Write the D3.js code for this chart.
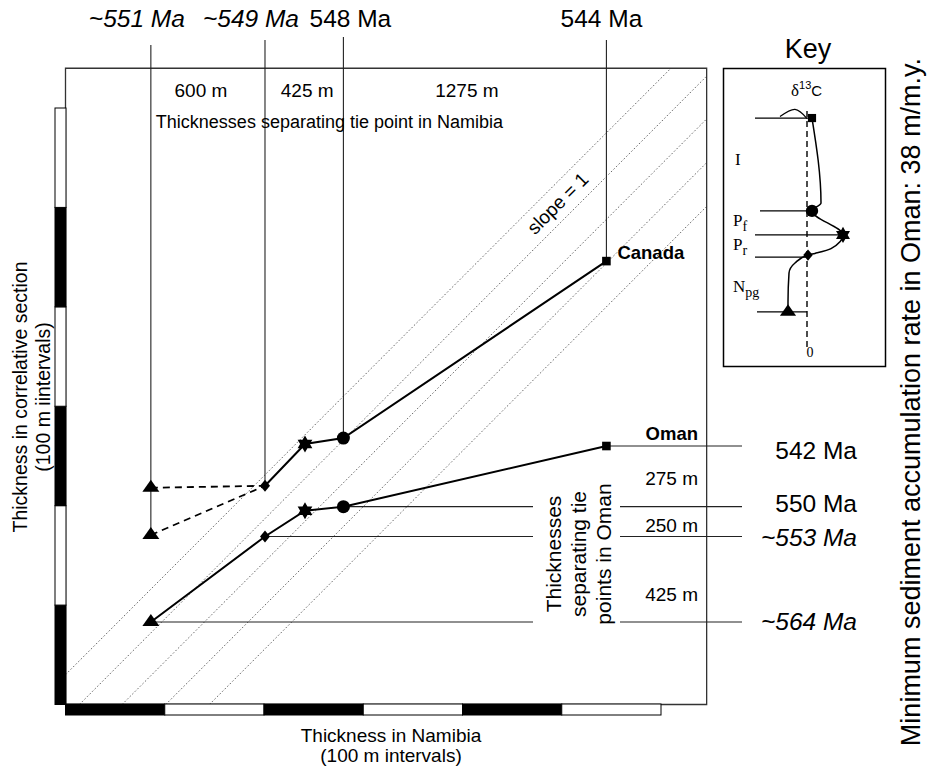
<!DOCTYPE html>
<html><head><meta charset="utf-8">
<script src="https://cdn.jsdelivr.net/npm/d3@7"></script>
<style>body{margin:0;background:#fff} svg{display:block}</style>
</head><body>
<svg id="c" width="933" height="767"></svg>
<script>
// ---------- DATA ----------
const tiePoints = ["Npg", "Pr", "peak", "Pf", "I"];
const tieSymbols = ["triangle", "diamond", "star", "circle", "square"];
const namibiaThickness = [86, 201, 241.3, 280, 545];
const canadaThickness = [218, 220, 262, 268, 446];
const canadaAltNpg = 170.5;
const omanThickness = [83, 169, 195, 199, 260];
const namibiaAges = ["~551 Ma", "~549 Ma", null, "548 Ma", "544 Ma"];
const namibiaGaps = ["600 m", "425 m", "1275 m"];
const omanAgeIdx = [0, 1, 3, 4];
const omanAges = ["~564 Ma", "~553 Ma", "550 Ma", "542 Ma"];
const omanGaps = ["425 m", "250 m", "275 m"];
const slopeIntercepts = [30, -14, -57, -101, -145];
const barTicks = [0, 100, 200, 300, 400, 500, 600];
const frameMax = [646, 640];
// key (schematic d13C profile)
const keyMarkerDelta = [-0.475, 0.025, 0.9, 0.125, 0.125];
const keyMarkerHeight = [0.146, 0.383, 0.467, 0.567, 0.954];
const keyProfileDelta = [0.125, 0.35, 0.125, 0.9, 0.6, 0.2, 0.025, -0.3, -0.45, -0.475, -0.475];
const keyProfileHeight = [0.954, 0.6, 0.567, 0.467, 0.41, 0.39, 0.383, 0.35, 0.308, 0.188, 0.146];
const keyCurlDelta = [-0.675, -0.3, 0.0];
const keyCurlHeight = [0.96, 0.99, 0.952];

// ---------- SETUP ----------
const svg = d3.select("#c");
const SANS = "'Liberation Sans', Arial, Helvetica, sans-serif";
const SERIF = "'Liberation Serif', 'Times New Roman', serif";
const x = d3.scaleLinear().domain([0, 600]).range([65.5, 661]);
const y = d3.scaleLinear().domain([0, 600]).range([704.5, 108]);

function markerPath(type, k = 1) {
  const p = d3.path();
  if (type === "triangle") {
    p.moveTo(0, -8 * k); p.lineTo(8.5 * k, 4 * k); p.lineTo(-8.5 * k, 4 * k); p.closePath();
  } else if (type === "diamond") {
    p.moveTo(0, -6 * k); p.lineTo(5 * k, 0); p.lineTo(0, 6 * k); p.lineTo(-5 * k, 0); p.closePath();
  } else if (type === "star") {
    const R = 8.5 * k, r = R / Math.sqrt(3);
    for (let i = 0; i < 12; i++) {
      const a = -Math.PI / 2 + i * Math.PI / 6, rr = i % 2 ? r : R;
      if (i === 0) p.moveTo(rr * Math.cos(a), rr * Math.sin(a)); else p.lineTo(rr * Math.cos(a), rr * Math.sin(a));
    }
    p.closePath();
  } else if (type === "circle") {
    p.arc(0, 0, 6.5 * k, 0, 2 * Math.PI);
  } else if (type === "square") {
    const s = 4.3 * k; p.rect(-s, -s, 2 * s, 2 * s);
  }
  return p.toString();
}

// ---------- DIAGONALS (slope = 1) ----------
const diag = svg.append("g");
slopeIntercepts.forEach(c => {
  const x0 = Math.max(0, -c), x1 = Math.min(frameMax[0], frameMax[1] - c);
  diag.append("line").attr("x1", x(x0)).attr("y1", y(x0 + c)).attr("x2", x(x1)).attr("y2", y(x1 + c))
    .attr("stroke", "#444").attr("stroke-width", 0.8).attr("stroke-dasharray", "1.6,2");
});
svg.append("text").attr("transform", `translate(${x(496)},${y(504)}) rotate(-45)`)
  .attr("text-anchor", "middle").attr("dominant-baseline", "central")
  .attr("font-family", SANS).attr("font-size", 19).text("slope = 1");

// ---------- FRAME ----------
svg.append("path")
  .attr("d", `M${x(0)},${y(0)} V${y(frameMax[1])} H${x(frameMax[0])} V${y(0)} H${x(0)}`)
  .attr("fill", "none").attr("stroke", "#333").attr("stroke-width", 1.3);

// bars
const bars = svg.append("g");
d3.pairs(barTicks).forEach(([a, b], i) => {
  bars.append("rect").attr("x", x(a)).attr("y", 704).attr("width", x(b) - x(a)).attr("height", 11)
    .attr("fill", i % 2 === 0 ? "#000" : "#fff").attr("stroke", "#000").attr("stroke-width", 1);
  bars.append("rect").attr("x", 55).attr("y", y(b)).attr("width", 11).attr("height", y(a) - y(b))
    .attr("fill", i % 2 === 0 ? "#000" : "#fff").attr("stroke", "#000").attr("stroke-width", 1);
});

// ---------- REFERENCE LINES ----------
const ref = svg.append("g").attr("stroke", "#222").attr("stroke-width", 1.1).attr("fill", "none");
const topStart = [45, 40, null, 37, 40];
namibiaAges.forEach((lab, i) => {
  if (!lab) return;
  const yEnd = i === 0 ? y(canadaAltNpg) : y(canadaThickness[i]);
  ref.append("line").attr("x1", x(namibiaThickness[i])).attr("x2", x(namibiaThickness[i]))
    .attr("y1", topStart[i]).attr("y2", yEnd);
});
omanAgeIdx.forEach(i => {
  const yy = y(omanThickness[i]);
  if (i === 4) {
    ref.append("line").attr("x1", x(namibiaThickness[i])).attr("x2", 742).attr("y1", yy).attr("y2", yy);
  } else {
    ref.append("line").attr("x1", x(namibiaThickness[i])).attr("x2", 533).attr("y1", yy).attr("y2", yy);
    ref.append("line").attr("x1", 620).attr("x2", 742).attr("y1", yy).attr("y2", yy);
  }
});

// ---------- CORRELATION LINES ----------
const lineGen = d3.line().x(d => x(d[0])).y(d => y(d[1]));
const canadaPts = namibiaThickness.map((v, i) => [v, canadaThickness[i]]);
const omanPts = namibiaThickness.map((v, i) => [v, omanThickness[i]]);
svg.append("path").attr("d", lineGen(canadaPts.slice(1))).attr("fill", "none").attr("stroke", "#000").attr("stroke-width", 2);
svg.append("path").attr("d", lineGen(omanPts)).attr("fill", "none").attr("stroke", "#000").attr("stroke-width", 2);
[[canadaPts[0], canadaPts[1]], [[namibiaThickness[0], canadaAltNpg], canadaPts[1]]].forEach(seg => {
  svg.append("path").attr("d", lineGen(seg)).attr("fill", "none").attr("stroke", "#000")
    .attr("stroke-width", 1.8).attr("stroke-dasharray", "7,5");
});

// markers
const mk = svg.append("g").attr("fill", "#000");
canadaPts.forEach((d, i) => mk.append("path").attr("d", markerPath(tieSymbols[i])).attr("transform", `translate(${x(d[0])},${y(d[1])})`));
mk.append("path").attr("d", markerPath("triangle")).attr("transform", `translate(${x(namibiaThickness[0])},${y(canadaAltNpg)})`);
omanPts.forEach((d, i) => mk.append("path").attr("d", markerPath(tieSymbols[i])).attr("transform", `translate(${x(d[0])},${y(d[1])})`));

// ---------- TEXT ----------
const txt = (xx, yy, s, size, opts = {}) => svg.append("text").attr("x", xx).attr("y", yy)
  .attr("font-family", opts.family || SANS).attr("font-size", size)
  .attr("font-style", opts.italic ? "italic" : "normal").attr("font-weight", opts.bold ? "bold" : "normal")
  .attr("text-anchor", opts.anchor || "middle").text(s);

const topOffsets = [-14, -14, 0, 7, -5];
namibiaAges.forEach((lab, i) => {
  if (!lab) return;
  txt(x(namibiaThickness[i]) + topOffsets[i], 27, lab, 24.5, { italic: lab.startsWith("~") });
});
const gapPairs = [[0, 1], [1, 3], [3, 4]];
const gapOffsets = [-7, 3, -8];
namibiaGaps.forEach((g, j) => {
  const [a, b] = gapPairs[j];
  txt((x(namibiaThickness[a]) + x(namibiaThickness[b])) / 2 + gapOffsets[j], 97, g, 19);
});
txt(x(namibiaThickness[0]) + 5, 128, "Thicknesses separating tie point in Namibia", 18, { anchor: "start" });

const omanAgeOffsets = [8, 9.5, 5, 12.5];
omanAges.forEach((lab, j) => {
  txt(857, y(omanThickness[omanAgeIdx[j]]) + omanAgeOffsets[j], lab, 24.5, { anchor: "end", italic: lab.startsWith("~") });
});
const omanGapOffsets = [22, 10.5, 9];
omanGaps.forEach((g, j) => {
  const [a, b] = gapPairs[j];
  txt(698, (y(omanThickness[a]) + y(omanThickness[b])) / 2 + omanGapOffsets[j], g, 19, { anchor: "end" });
});
txt(x(namibiaThickness[4]) + 11, y(canadaThickness[4]) - 2, "Canada", 18.5, { anchor: "start", bold: true });
txt(698, y(omanThickness[4]) - 6, "Oman", 18.5, { anchor: "end", bold: true });

// rotated Oman thickness caption
["Thicknesses", "separating tie", "points in Oman"].forEach((s, j) => {
  svg.append("text").attr("transform", `translate(${561 + j * 25},554) rotate(-90)`)
    .attr("text-anchor", "middle").attr("font-family", SANS).attr("font-size", 21).text(s);
});

// axis titles
txt(391, 742, "Thickness in Namibia", 19);
txt(391, 762, "(100 m intervals)", 19);
["Thickness in correlative section", "(100 m iintervals)"].forEach((s, j) => {
  svg.append("text").attr("transform", `translate(${27 + j * 23},397) rotate(-90)`)
    .attr("text-anchor", "middle").attr("font-family", SANS).attr("font-size", 19.5).text(s);
});
svg.append("text").attr("transform", `translate(920,402) rotate(-90)`)
  .attr("text-anchor", "middle").attr("font-family", SANS).attr("font-size", 27)
  .text("Minimum sediment accumulation rate in Oman: 38 m/m.y.");

// ---------- KEY ----------
const kx = d3.scaleLinear().domain([0, 1]).range([807, 847]);
const ky = d3.scaleLinear().domain([0, 1]).range([347, 107]);
txt(808, 58, "Key", 27);
svg.append("rect").attr("x", 723.5).attr("y", 68.5).attr("width", 162).attr("height", 298)
  .attr("fill", "none").attr("stroke", "#000").attr("stroke-width", 1.5);
svg.append("line").attr("x1", kx(0)).attr("x2", kx(0)).attr("y1", ky(0)).attr("y2", ky(1))
  .attr("stroke", "#000").attr("stroke-width", 1.4).attr("stroke-dasharray", "6,4");
const d13 = svg.append("text").attr("x", 791).attr("y", 96);
d13.append("tspan").attr("font-family", SERIF).attr("font-size", 17).text("δ");
d13.append("tspan").attr("font-family", SANS).attr("font-size", 11).attr("dy", -7).text("13");
d13.append("tspan").attr("font-family", SANS).attr("font-size", 15).attr("dy", 7).text("C");
txt(kx(0) + 3, 357, "0", 14, { family: SERIF });

// key tie lines
const keyLineStart = [757, 755, 755, 760, 755];
const keyLineEnd = [0, keyMarkerDelta[1], keyMarkerDelta[2], keyMarkerDelta[3], keyMarkerDelta[4]];
keyMarkerHeight.forEach((h, i) => {
  svg.append("line").attr("x1", keyLineStart[i]).attr("x2", kx(keyLineEnd[i]))
    .attr("y1", ky(h) + (i === 1 ? 2 : 0)).attr("y2", ky(h) + (i === 1 ? 2 : 0))
    .attr("stroke", "#000").attr("stroke-width", 1.2);
});
const kline = d3.line().x(d => kx(d[0])).y(d => ky(d[1]));
svg.append("path").attr("d", kline.curve(d3.curveMonotoneY)(keyProfileDelta.map((v, i) => [v, keyProfileHeight[i]])))
  .attr("fill", "none").attr("stroke", "#000").attr("stroke-width", 1.5);
svg.append("path").attr("d", d3.line().x(d => kx(d[0])).y(d => ky(d[1])).curve(d3.curveNatural)(keyCurlDelta.map((v, i) => [v, keyCurlHeight[i]])))
  .attr("fill", "none").attr("stroke", "#000").attr("stroke-width", 1.2);
keyMarkerDelta.forEach((d, i) => {
  svg.append("path").attr("d", markerPath(tieSymbols[i], 0.95)).attr("transform", `translate(${kx(d)},${ky(keyMarkerHeight[i])})`).attr("fill", "#000");
});
// key labels
txt(735, 165, "I", 17, { family: SERIF, anchor: "start" });
const subLab = (xx, yy, main, sub) => {
  const t = svg.append("text").attr("x", xx).attr("y", yy).attr("font-family", SERIF).attr("font-size", 17);
  t.append("tspan").text(main);
  t.append("tspan").attr("font-size", 14).attr("dy", 5).text(sub);
};
subLab(733, 226, "P", "f");
subLab(733, 250, "P", "r");
subLab(733, 292, "N", "pg");
</script>
</body></html>
